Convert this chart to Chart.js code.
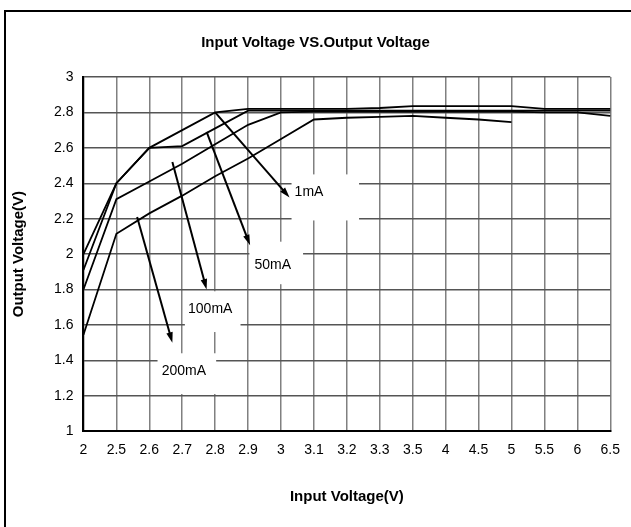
<!DOCTYPE html>
<html>
<head>
<meta charset="utf-8">
<script src="https://cdn.jsdelivr.net/npm/chart.js@4.4.0/dist/chart.umd.min.js"></script>
<style>
  html, body { margin: 0; padding: 0; background: #fff; }
  #wrap { position: relative; width: 631px; height: 527px; }
  #frame { position: absolute; left: 4px; top: 10px; right: -10px; bottom: -10px;
           border-left: 2px solid #000; border-top: 2px solid #000; pointer-events: none; }
</style>
</head>
<body>
<div id="wrap">
  <canvas id="chart" width="631" height="527"></canvas>
  <div id="frame"></div>
</div>
<script>
// input voltage steps (category axis)
const inputVolts = ['2', '2.5', '2.6', '2.7', '2.8', '2.9', '3', '3.1', '3.2', '3.3', '3.5', '4', '4.5', '5', '5.5', '6', '6.5'];
// output voltage per load current
const out1mA   = [2.00, 2.40, 2.60, 2.70, 2.80, 2.82, 2.82, 2.82, 2.82, 2.825, 2.835, 2.835, 2.835, 2.835, 2.82, 2.82, 2.82];
const out50mA  = [1.91, 2.40, 2.60, 2.61, 2.71, 2.81, 2.81, 2.81, 2.81, 2.81, 2.81, 2.81, 2.81, 2.81, 2.81, 2.81, 2.81];
const out100mA = [1.80, 2.31, 2.41, 2.51, 2.62, 2.73, 2.80, 2.805, 2.805, 2.805, 2.805, 2.805, 2.805, 2.805, 2.80, 2.80, 2.78];
const out200mA = [1.545, 2.115, 2.23, 2.33, 2.44, 2.54, 2.65, 2.76, 2.77, 2.775, 2.78, 2.77, 2.76, 2.745, null, null, null];
const yTicks = [1, 1.2, 1.4, 1.6, 1.8, 2, 2.2, 2.4, 2.6, 2.8, 3];

// callouts: label, arrow start/end and label box, in axis units (category index, volts)
const noteLabels = ['1mA', '50mA', '100mA', '200mA'];
const arrowFrom  = [[4.0, 2.80], [3.74, 2.69], [2.70, 2.52], [1.63, 2.21]];
const arrowTo    = [[6.26, 2.32], [5.06, 2.05], [3.74, 1.80], [2.70, 1.50]];
const boxFrom    = [[6.32, 2.45], [5.04, 2.07], [3.08, 1.79], [2.25, 1.44]];
const boxTo      = [[8.37, 2.19], [6.67, 1.83], [4.77, 1.56], [4.03, 1.21]];
const textAt     = [[6.85, 2.35], [5.75, 1.94], [3.85, 1.69], [3.05, 1.34]];

const FONT = "'Liberation Sans Narrow', 'Arial Narrow', 'Liberation Sans', sans-serif";

const calloutPlugin = {
  id: 'callouts',
  beforeDatasetsDraw(chart) {
    const { ctx, scales: { x, y } } = chart;
    ctx.save();
    ctx.fillStyle = '#fff';
    for (let i = 0; i < noteLabels.length; i++) {
      const x0 = x.getPixelForValue(boxFrom[i][0]), y0 = y.getPixelForValue(boxFrom[i][1]);
      const x1 = x.getPixelForValue(boxTo[i][0]), y1 = y.getPixelForValue(boxTo[i][1]);
      ctx.fillRect(x0, y0, x1 - x0, y1 - y0);
    }
    ctx.restore();
  },
  afterDatasetsDraw(chart) {
    const { ctx, scales: { x, y } } = chart;
    ctx.save();
    ctx.strokeStyle = '#000';
    ctx.fillStyle = '#000';
    ctx.lineWidth = 2;
    for (let i = 0; i < noteLabels.length; i++) {
      const sx = x.getPixelForValue(arrowFrom[i][0]), sy = y.getPixelForValue(arrowFrom[i][1]);
      const ex = x.getPixelForValue(arrowTo[i][0]), ey = y.getPixelForValue(arrowTo[i][1]);
      const ang = Math.atan2(ey - sy, ex - sx);
      const head = 11;
      ctx.beginPath();
      ctx.moveTo(sx, sy);
      ctx.lineTo(ex - Math.cos(ang) * head * 0.8, ey - Math.sin(ang) * head * 0.8);
      ctx.stroke();
      ctx.beginPath();
      ctx.moveTo(ex, ey);
      ctx.lineTo(ex - head * Math.cos(ang - 0.3), ey - head * Math.sin(ang - 0.3));
      ctx.lineTo(ex - head * Math.cos(ang + 0.3), ey - head * Math.sin(ang + 0.3));
      ctx.closePath();
      ctx.fill();

      ctx.font = '14px ' + FONT;
      ctx.textAlign = 'center';
      ctx.textBaseline = 'middle';
      ctx.fillText(noteLabels[i], x.getPixelForValue(textAt[i][0]), y.getPixelForValue(textAt[i][1]));
    }
    ctx.restore();
  }
};

const lineStyle = { borderColor: '#000', borderWidth: 1.8, pointRadius: 0, tension: 0, fill: false, spanGaps: false };

new Chart(document.getElementById('chart').getContext('2d'), {
  type: 'line',
  data: {
    labels: inputVolts,
    datasets: [
      { label: '1mA', data: out1mA, ...lineStyle },
      { label: '50mA', data: out50mA, ...lineStyle },
      { label: '100mA', data: out100mA, ...lineStyle },
      { label: '200mA', data: out200mA, ...lineStyle }
    ]
  },
  options: {
    responsive: false,
    animation: false,
    layout: { padding: { left: 0, top: 0, right: 0, bottom: 10 } },
    plugins: {
      legend: { display: false },
      tooltip: { enabled: false },
      title: {
        display: true,
        text: 'Input Voltage VS.Output Voltage',
        color: '#000',
        font: { family: FONT, size: 15, weight: 'bold' },
        padding: { top: 34, bottom: 25 }
      }
    },
    scales: {
      x: {
        offset: false,
        grid: { color: '#808080', lineWidth: 1.5, drawTicks: false },
        border: { color: '#000', width: 2 },
        ticks: { color: '#000', font: { family: FONT, size: 14 }, padding: 11, maxRotation: 0, autoSkip: false },
        title: { display: true, text: 'Input Voltage(V)', color: '#000', font: { family: FONT, size: 15, weight: 'bold' }, padding: { top: 18, bottom: 11 } }
      },
      y: {
        min: 1,
        max: 3,
        afterBuildTicks: scale => { scale.ticks = yTicks.map(v => ({ value: v })); },
        grid: { color: '#555', lineWidth: 1.5, drawTicks: false },
        border: { color: '#000', width: 2 },
        ticks: { color: '#000', font: { family: FONT, size: 14 }, padding: 10, callback: v => String(+v.toFixed(1)) },
        title: { display: true, text: 'Output Voltage(V)', color: '#000', font: { family: FONT, size: 15, weight: 'bold' }, padding: { top: 10, bottom: 16 } }
      }
    }
  },
  plugins: [calloutPlugin]
});
</script>
</body>
</html>
